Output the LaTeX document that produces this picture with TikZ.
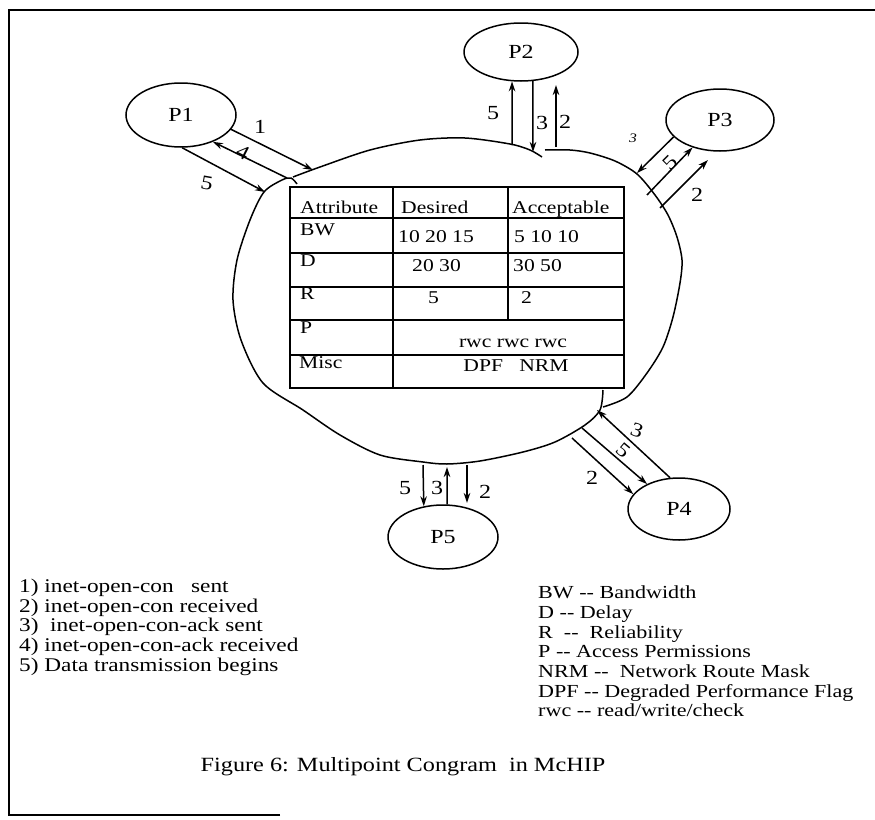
\documentclass[tikz,border=0pt]{standalone}
\usepackage{fontspec}
\setmainfont[FakeStretch=1.2]{Liberation Serif}
\usetikzlibrary{shapes.geometric,arrows.meta}

\begin{document}
\begin{tikzpicture}[x=1pt,y=-1pt,
		proc/.style={draw, ellipse, line width=1.5pt, inner sep=0pt, font=\fontsize{20}{22}\selectfont},
		msg/.style={line width=1.5pt, -{Stealth[length=10pt,width=6.5pt]}},
		num/.style={inner sep=0pt, font=\fontsize{20}{22}\selectfont},
		cell/.style={anchor=base west, inner sep=0pt, font=\fontsize{18}{20}\selectfont},
		note/.style={anchor=base west, inner sep=0pt, font=\fontsize{18.4}{20}\selectfont}]
	\useasboundingbox (0,0) rectangle (875,819);
	% frame of the figure
	\draw[line width=1.8pt] (280,815) -- (9,815) -- (9,10) -- (875,10);

	% the processes
	\node[proc, minimum width=110pt, minimum height=64pt] (p1) at (181,115) {P1};
	\node[proc, minimum width=114pt, minimum height=58pt] (p2) at (521,52) {P2};
	\node[proc, minimum width=108pt, minimum height=62pt] (p3) at (720,120) {P3};
	\node[proc, minimum width=102pt, minimum height=62pt] (p4) at (679,509) {P4};
	\node[proc, minimum width=110pt, minimum height=64pt] (p5) at (443,537) {P5};

	% the congram cloud
	\draw[line width=1.5pt] plot[smooth] coordinates {(293,177) (320,167) (370,150) (420,140) (465,138) (510,144) (530,150) (542,157)};
	\draw[line width=1.5pt] plot[smooth] coordinates {(545,150) (570,150) (590,153) (615,161) (637,174) (655,195) (668,215) (677,237) (682,260) (680,283) (673,317) (663,347) (647,373) (627,397) (603,407)};
	\draw[line width=1.5pt] plot[smooth] coordinates {(603,390) (600,410) (585,425) (555,442) (523,452) (480,461) (447,464) (423,462) (380,455) (340,435) (303,410) (263,383) (241,340) (233,300) (237,260) (250,220) (264,192) (282,180) (291,178) (297,184)};

	% ends on the cloud
	\coordinate (b11) at (313,170);
	\coordinate (b14) at (287,178);
	\coordinate (b15) at (265,192);
	\coordinate (b25) at (512,145);
	\coordinate (b23) at (533,152);
	\coordinate (b22) at (556,147);
	\coordinate (e22) at (556,85);
	\coordinate (b33) at (637,173);
	\coordinate (b35) at (647,195);
	\coordinate (b32) at (660,208);
	\coordinate (e32) at (708,160);
	\coordinate (b43) at (597,410);
	\coordinate (b45) at (582,428);
	\coordinate (b42) at (572,438);
	\coordinate (b55) at (423,465);
	\coordinate (b53) at (447,467);
	\coordinate (b52) at (467,465);
	\coordinate (e52) at (467,503);

	% messages
	\draw[msg] (p1.-16) -- (b11);
	\draw[msg] (b14) -- (p1.-40);
	\draw[msg] (p1.-88) -- (b15);
	\draw[msg] (b25) -- (p2.-107);
	\draw[msg] (p2.-68) -- (b23);
	\draw[msg] (b22) -- (e22);
	\draw[msg] (p3.-160) -- (b33);
	\draw[msg] (b35) -- (p3.-135);
	\draw[msg] (b32) -- (e32);
	\draw[msg] (p4.106) -- (b43);
	\draw[msg] (b45) -- (p4.142);
	\draw[msg] (b42) -- (p4.162);
	\draw[msg] (b55) -- (p5.122);
	\draw[msg] (p5.83) -- (b53);
	\draw[msg] (b52) -- (e52);

	\node[num] (l11) at (260,127) {1};
	\node[num, rotate=-27] (l14) at (243,152) {4};
	\node[num, rotate=-10] (l15) at (207,183) {5};
	\node[num] (l25) at (493,113) {5};
	\node[num] (l23) at (542,123) {3};
	\node[num] (l22) at (565,122) {2};
	\node[num, font=\fontsize{13}{14}\itshape] (l33) at (633,138) {3};
	\node[num, rotate=45] (l35) at (670,163) {5};
	\node[num] (l32) at (697,195) {2};
	\node[num, rotate=-20] (l43) at (637,430) {3};
	\node[num, rotate=-40] (l45) at (623,450) {5};
	\node[num] (l42) at (592,478) {2};
	\node[num] (l55) at (405,488) {5};
	\node[num] (l53) at (437,488) {3};
	\node[num] (l52) at (485,492) {2};

	% attribute table
	\draw[line width=1.8pt] (290,187) rectangle (624,388);
	\foreach \y in {218,253,287,320,355}
		\draw[line width=1.5pt] (290,\y) -- (624,\y);
	\draw[line width=1.5pt] (393,187) -- (393,388);
	\draw[line width=1.5pt] (508,187) -- (508,320);
	\node[cell] (t11) at (300,213) {Attribute};
	\node[cell] (t12) at (401,213) {Desired};
	\node[cell] (t13) at (512,213) {Acceptable};
	\node[cell] (t21) at (300,235) {BW};
	\node[cell] (t22) at (398,242) {10 20 15};
	\node[cell] (t23) at (514,242) {5 10 10};
	\node[cell] (t31) at (300,266) {D};
	\node[cell] (t32) at (412,271) {20 30};
	\node[cell] (t33) at (513,271) {30 50};
	\node[cell] (t41) at (300,299) {R};
	\node[cell] (t42) at (428,303) {5};
	\node[cell] (t43) at (521,303) {2};
	\node[cell] (t51) at (300,333) {P};
	\node[cell, anchor=base] (t52) at (513,347) {rwc rwc rwc};
	\node[cell] (t61) at (299,368) {Misc};
	\node[cell, anchor=base] (t62) at (516,371) {DPF\ \ \ NRM};

	% legends
	\node[note, font=\fontsize{19.4}{20}\selectfont] (n1) at (19,592) {1) inet-open-con\ \ \ sent};
	\node[note, font=\fontsize{19.4}{20}\selectfont] (n2) at (19,612) {2) inet-open-con received};
	\node[note, font=\fontsize{19.4}{20}\selectfont] (n3) at (19,631) {3) \ inet-open-con-ack\ sent};
	\node[note, font=\fontsize{19.4}{20}\selectfont] (n4) at (19,651) {4) inet-open-con-ack received};
	\node[note, font=\fontsize{19.4}{20}\selectfont] (n5) at (19,671) {5) Data transmission begins};

	\node[note] (k1) at (538,598) {BW -{}- Bandwidth};
	\node[note] (k2) at (538,618) {D -{}- Delay};
	\node[note] (k3) at (538,638) {R \ -{}- \ Reliability};
	\node[note] (k4) at (538,657) {P -{}- Access Permissions};
	\node[note] (k5) at (538,677) {NRM -{}- \ Network Route Mask};
	\node[note] (k6) at (538,697) {DPF -{}- Degraded Performance Flag};
	\node[note] (k7) at (538,716) {rwc -{}- read/write/check};

	\node[inner sep=0pt, anchor=base, font=\fontsize{20.2}{22}\selectfont] (cap) at (403,771) {Figure 6: Multipoint Congram\ \ in McHIP};
\end{tikzpicture}
\end{document}
